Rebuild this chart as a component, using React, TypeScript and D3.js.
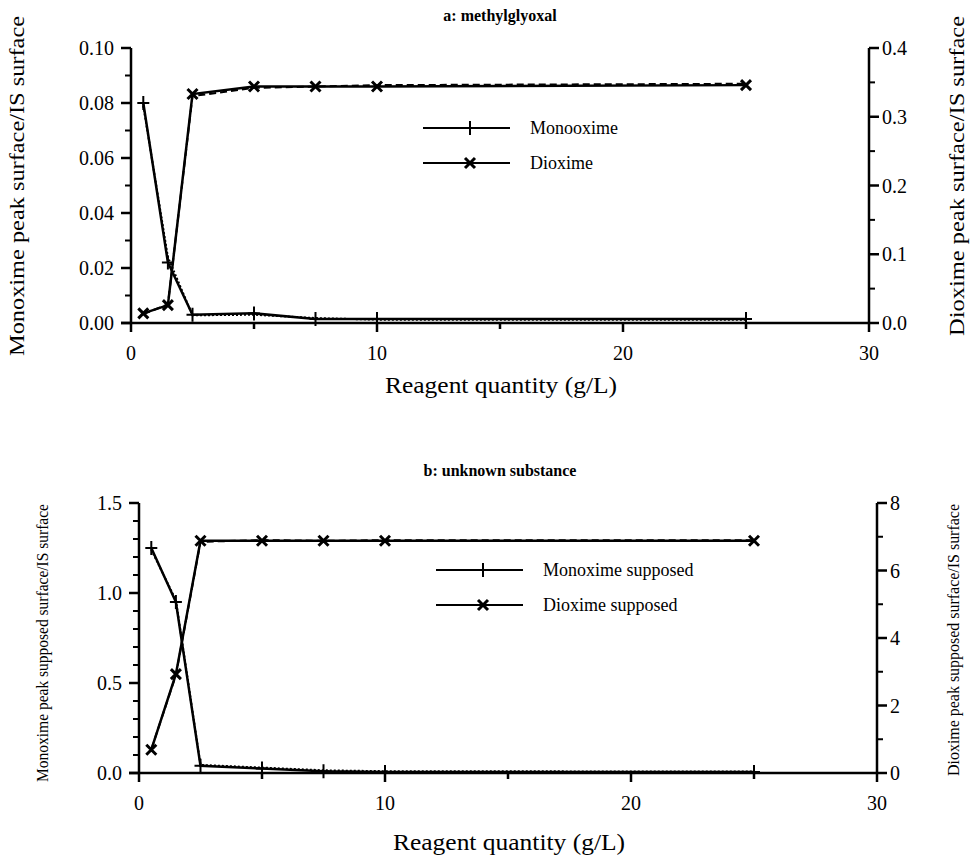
import React from 'react';
import * as d3 from 'd3';

// reagent quantity (g/L)
const reagent = [0.5, 1.5, 2.5, 5, 7.5, 10, 25];

// panel a: methylglyoxal
const monooximeA = [0.08, 0.022, 0.003, 0.0035, 0.0015, 0.0015, 0.0015];
const monooximeA2 = [0.079, 0.024, 0.0028, 0.003, 0.0018, 0.0012, 0.0012];
const dioximeA = [0.014, 0.026, 0.333, 0.344, 0.344, 0.344, 0.346];
const dioximeA2 = [0.013, 0.027, 0.33, 0.342, 0.344, 0.346, 0.348];

// panel b: unknown substance
const monoximeB = [1.25, 0.95, 0.04, 0.025, 0.01, 0.005, 0.005];
const monoximeB2 = [1.24, 0.96, 0.045, 0.03, 0.015, 0.01, 0.008];
const dioximeB = [0.69, 2.93, 6.88, 6.88, 6.88, 6.88, 6.88];
const dioximeB2 = [0.7, 2.9, 6.85, 6.9, 6.88, 6.9, 6.9];

const xTicks = [0, 10, 20, 30];
const xMinor = [5, 15, 25];
const ticksLA = [0, 0.02, 0.04, 0.06, 0.08, 0.1];
const ticksRA = [0, 0.1, 0.2, 0.3, 0.4];
const ticksLB = [0, 0.5, 1.0, 1.5];
const ticksRB = [0, 2, 4, 6, 8];

const serif = { fontFamily: "'Liberation Serif', 'Times New Roman', Times, serif" };

const Plus = ({ x, y }) => (
  <path d={`M${x - 6},${y}H${x + 6}M${x},${y - 7}V${y + 7}`} stroke="#000" strokeWidth={2} />
);
const Cross = ({ x, y }) => (
  <path d={`M${x - 5},${y - 5}L${x + 5},${y + 5}M${x - 5},${y + 5}L${x + 5},${y - 5}`} stroke="#000" strokeWidth={3} />
);

function Panel(props) {
  const { top, bottom, left, right, title, yMaxL, yMaxR, ticksL, ticksR, minorL, minorR, fmtL, fmtR,
    monoA, monoB, diA, diB, names, labelL, labelR, labelSize, labelLX, labelRX, labelLY, labelRY,
    lenL, lenR, xLabelX, xLabelY, legendX, legendY } = props;
  const x = d3.scaleLinear().domain([0, 30]).range([left, right]);
  const yL = d3.scaleLinear().domain([0, yMaxL]).range([bottom, top]);
  const yR = d3.scaleLinear().domain([0, yMaxR]).range([bottom, top]);
  const lineL = d3.line<number>().x((d, i) => x(reagent[i])).y(d => yL(d));
  const lineR = d3.line<number>().x((d, i) => x(reagent[i])).y(d => yR(d));

  return (
    <g style={serif} fill="#000">
      <text x={500} y={top - 27} textAnchor="middle" fontWeight="bold" fontSize={16} style={serif}>{title}</text>

      {/* axes */}
      <line x1={left} x2={left} y1={top} y2={bottom} stroke="#000" strokeWidth={2.5} />
      <line x1={right} x2={right} y1={top} y2={bottom} stroke="#000" strokeWidth={2.5} />
      <line x1={left - 10} x2={right} y1={bottom} y2={bottom} stroke="#000" strokeWidth={2.5} />

      {xTicks.map(t => (
        <g key={'x' + t}>
          <line x1={x(t)} x2={x(t)} y1={bottom} y2={bottom + 9} stroke="#000" strokeWidth={2.5} />
          <text x={x(t)} y={bottom + 37} textAnchor="middle" fontSize={20} style={serif}>{t}</text>
        </g>
      ))}
      {xMinor.map(t => (
        <line key={'xm' + t} x1={x(t)} x2={x(t)} y1={bottom} y2={bottom + 6} stroke="#000" strokeWidth={2.5} />
      ))}

      {ticksL.map(t => (
        <g key={'l' + t}>
          <line x1={left - 10} x2={left} y1={yL(t)} y2={yL(t)} stroke="#000" strokeWidth={2.5} />
          <text x={left - 17} y={yL(t) + 7} textAnchor="end" fontSize={20} style={serif}>{fmtL(t)}</text>
        </g>
      ))}
      {minorL.map(t => (
        <line key={'lm' + t} x1={left - 6} x2={left} y1={yL(t)} y2={yL(t)} stroke="#000" strokeWidth={2} />
      ))}
      {ticksR.map(t => (
        <g key={'r' + t}>
          <line x1={right} x2={right + 10} y1={yR(t)} y2={yR(t)} stroke="#000" strokeWidth={2.5} />
          <text x={right + 13} y={yR(t) + 7} textAnchor="start" fontSize={20} style={serif}>{fmtR(t)}</text>
        </g>
      ))}
      {minorR.map(t => (
        <line key={'rm' + t} x1={right} x2={right + 6} y1={yR(t)} y2={yR(t)} stroke="#000" strokeWidth={2} />
      ))}

      {/* series */}
      <path d={lineL(monoB)} fill="none" stroke="#000" strokeWidth={2} strokeDasharray="2,2" />
      <path d={lineR(diB)} fill="none" stroke="#000" strokeWidth={2} strokeDasharray="7,4" />
      <path d={lineL(monoA)} fill="none" stroke="#000" strokeWidth={2.5} />
      <path d={lineR(diA)} fill="none" stroke="#000" strokeWidth={2.5} />
      {monoA.map((d, i) => <Plus key={'p' + i} x={x(reagent[i])} y={yL(d)} />)}
      {diA.map((d, i) => <Cross key={'c' + i} x={x(reagent[i])} y={yR(d)} />)}

      {/* legend */}
      <line x1={legendX} x2={legendX + 87} y1={legendY} y2={legendY} stroke="#000" strokeWidth={2} />
      <Plus x={legendX + 47} y={legendY} />
      <text x={legendX + 107} y={legendY + 6} fontSize={18} style={serif}>{names[0]}</text>
      <line x1={legendX} x2={legendX + 87} y1={legendY + 35} y2={legendY + 35} stroke="#000" strokeWidth={2} />
      <Cross x={legendX + 47} y={legendY + 35} />
      <text x={legendX + 107} y={legendY + 41} fontSize={18} style={serif}>{names[1]}</text>

      {/* axis titles */}
      <text transform={`translate(${labelLX},${labelLY}) rotate(-90)`} textAnchor="middle" fontSize={labelSize}
        textLength={lenL} lengthAdjust="spacingAndGlyphs" style={serif}>{labelL}</text>
      <text transform={`translate(${labelRX},${labelRY}) rotate(-90)`} textAnchor="middle" fontSize={labelSize}
        textLength={lenR} lengthAdjust="spacingAndGlyphs" style={serif}>{labelR}</text>
      <text x={xLabelX} y={xLabelY} textAnchor="middle" fontSize={23} textLength={232}
        lengthAdjust="spacingAndGlyphs" style={serif}>Reagent quantity (g/L)</text>
    </g>
  );
}

export default function App() {
  const f2 = d3.format('.2f');
  const f1 = d3.format('.1f');
  return (
    <svg width={974} height={861} style={{ position: 'absolute', left: 0, top: 0, background: '#fff' }}>
      <Panel
        top={48} bottom={323} left={131} right={869}
        title="a: methylglyoxal"
        yMaxL={0.1} yMaxR={0.4}
        ticksL={ticksLA} ticksR={ticksRA}
        minorL={[0.01, 0.03, 0.05, 0.07, 0.09]} minorR={[0.05, 0.15, 0.25, 0.35]}
        fmtL={f2} fmtR={f1}
        monoA={monooximeA} monoB={monooximeA2} diA={dioximeA} diB={dioximeA2}
        names={['Monooxime', 'Dioxime']}
        labelL="Monoxime peak surface/IS surface" labelR="Dioxime peak surface/IS surface"
        labelSize={21} labelLX={24} labelRX={964} labelLY={186} labelRY={176} lenL={340} lenR={320}
        xLabelX={501} xLabelY={393}
        legendX={423} legendY={128}
      />
      <Panel
        top={503} bottom={773} left={139} right={877}
        title="b: unknown substance"
        yMaxL={1.5} yMaxR={8}
        ticksL={ticksLB} ticksR={ticksRB}
        minorL={[0.1, 0.2, 0.3, 0.4, 0.6, 0.7, 0.8, 0.9, 1.1, 1.2, 1.3, 1.4]} minorR={[1, 3, 5, 7]}
        fmtL={f1} fmtR={d3.format('d')}
        monoA={monoximeB} monoB={monoximeB2} diA={dioximeB} diB={dioximeB2}
        names={['Monoxime  supposed', 'Dioxime  supposed']}
        labelL="Monoxime peak supposed surface/IS surface" labelR="Dioxime peak supposed surface/IS surface"
        labelSize={17} labelLX={48} labelRX={959} labelLY={643} labelRY={640} lenL={278} lenR={272}
        xLabelX={509} xLabelY={850}
        legendX={436} legendY={570}
      />
    </svg>
  );
}
